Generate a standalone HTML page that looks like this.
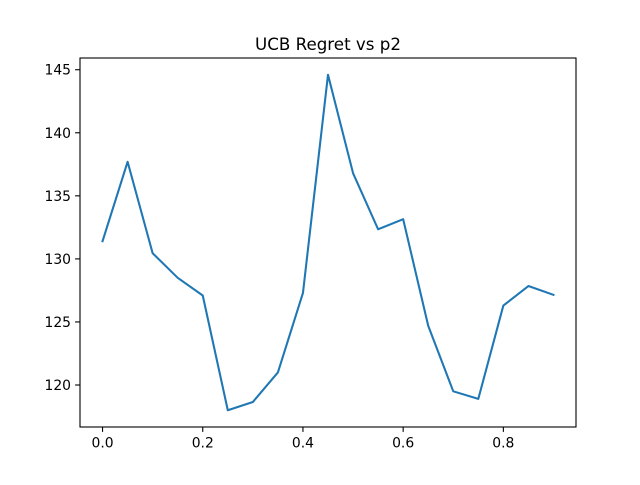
<!DOCTYPE html>
<html><head><meta charset="utf-8"><style>
body{margin:0;background:#fff}
svg text{font-family:"DejaVu Sans","Liberation Sans",sans-serif;fill:#000}
</style></head><body>
<svg id="chart" width="640" height="480" xmlns="http://www.w3.org/2000/svg">
<rect width="640" height="480" fill="#fff"/>
<text x="328" y="50" font-size="16.7" text-anchor="middle">UCB Regret vs p2</text>
<g id="axes"></g>
</svg>
<script>
const xValues=[0,0.05,0.1,0.15,0.2,0.25,0.3,0.35,0.4,0.45,0.5,0.55,0.6,0.65,0.7,0.75,0.8,0.85,0.9];
const regret=[131.4,137.7,130.45,128.5,127.1,118.0,118.65,121.0,127.3,144.6,136.8,132.35,133.15,124.7,119.5,118.9,126.3,127.85,127.15];
const xTicks=[0,0.2,0.4,0.6,0.8];
const xTickLabels=["0.0","0.2","0.4","0.6","0.8"];
const yTicks=[120,125,130,135,140,145];
const yTickLabels=["120","125","130","135","140","145"];
const L=80,R=576,T=58,B=427;
const xmin0=Math.min(...xValues),xmax0=Math.max(...xValues),ymin0=Math.min(...regret),ymax0=Math.max(...regret);
const xm=(xmax0-xmin0)*0.05,ym=(ymax0-ymin0)*0.05;
const xmin=xmin0-xm,xmax=xmax0+xm,ymin=ymin0-ym,ymax=ymax0+ym;
const sx=v=>L+(v-xmin)/(xmax-xmin)*(R-L);
const sy=v=>B-(v-ymin)/(ymax-ymin)*(B-T);
const NS="http://www.w3.org/2000/svg";
const g=document.getElementById('axes');
function mk(t,a){const e=document.createElementNS(NS,t);for(const k in a)e.setAttribute(k,a[k]);g.appendChild(e);return e;}
const line=mk('polyline',{points:xValues.map((x,i)=>sx(x)+','+sy(regret[i])).join(' '),fill:'none',stroke:'#1f77b4','stroke-width':2.08,'stroke-linejoin':'round','stroke-linecap':'square'});


xTicks.forEach((v,i)=>{
  const x=sx(v);
  const t=mk('line',{x1:x,x2:x,y1:B,y2:B+4.9,stroke:'#000','stroke-width':1.1});
  
  
  const l=mk('text',{x:x,y:B+20.5,'font-size':13.9,'text-anchor':'middle'});l.textContent=xTickLabels[i];
  
  
});
yTicks.forEach((v,i)=>{
  const y=sy(v);
  const t=mk('line',{x1:L-4.9,x2:L,y1:y,y2:y,stroke:'#000','stroke-width':1.1});
  
  
  const l=mk('text',{x:L-9,y:y+5,'font-size':13.9,'text-anchor':'end'});l.textContent=yTickLabels[i];
  
  
});
const fr=mk('rect',{x:L,y:T,width:R-L,height:B-T,fill:'none',stroke:'#000','stroke-width':1.1});


</script>
</body></html>
